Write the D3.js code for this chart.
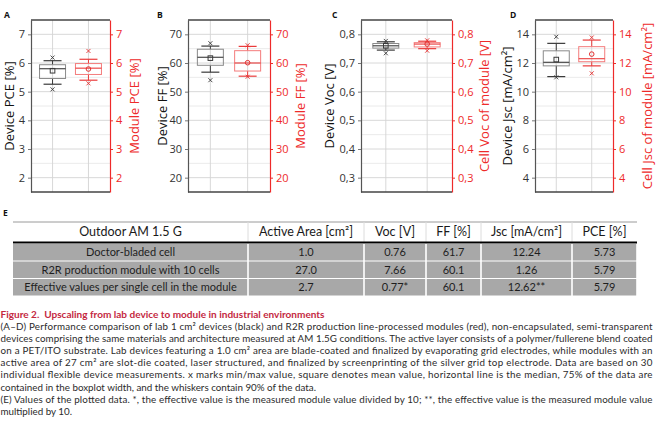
<!DOCTYPE html>
<html><head><meta charset="utf-8">
<script src="https://cdn.jsdelivr.net/npm/d3@7"></script>
<style>
body{margin:0;background:#fff;}
svg{display:block;}
</style></head><body>
<svg id="fig" width="660" height="437"></svg>
<script>
// box stats per series: [min, whisker low, q1, median, q3, whisker high, max, mean]
var pceDevice = [5.08, 5.26, 5.46, 5.8, 5.94, 6.08, 6.19, 5.73];
var pceModule = [5.29, 5.4, 5.6, 5.82, 5.98, 6.13, 6.42, 5.79];
var ffDevice = [54.0, 56.8, 59.2, 62.0, 64.8, 65.9, 66.9, 61.7];
var ffModule = [55.2, 55.4, 57.2, 60.0, 64.3, 65.8, 66.2, 60.1];
var vocDevice = [0.734, 0.745, 0.752, 0.760, 0.768, 0.774, 0.777, 0.760];
var vocModule = [0.743, 0.750, 0.756, 0.766, 0.771, 0.776, 0.779, 0.766];
var jscDevice = [11.0, 11.05, 11.8, 12.05, 12.85, 13.37, 13.83, 12.24];
var jscModule = [11.28, 11.8, 12.09, 12.3, 13.14, 13.6, 13.78, 12.62];

var panelLetters = ["A", "B", "C", "D"];
var leftTitles = ["Device PCE [%]", "Device FF [%]", "Device Voc [V]", "Device Jsc [mA/cm²]"];
var rightTitles = ["Module PCE [%]", "Module FF [%]", "Cell Voc of module [V]", "Cell Jsc of module [mA/cm²]"];
var yDomains = [[1.5, 7.5], [15, 75], [0.25, 0.85], [3, 15]];
var yTicks = [
	[2, 3, 4, 5, 6, 7],
	[20, 30, 40, 50, 60, 70],
	[0.3, 0.4, 0.5, 0.6, 0.7, 0.8],
	[4, 6, 8, 10, 12, 14]
];
var groups = ["Device", "Module"];

// table E
var tableHeader = ["Outdoor AM 1.5 G", "Active Area [cm²]", "Voc [V]", "FF [%]", "Jsc [mA/cm²]", "PCE [%]"];
var rowNames = ["Doctor-bladed cell", "R2R production module with 10 cells", "Effective values per single cell in the module"];
var areaVals = ["1.0", "27.0", "2.7"];
var vocVals = ["0.76", "7.66", "0.77*"];
var ffVals = ["61.7", "60.1", "60.1"];
var jscVals = ["12.24", "1.26", "12.62**"];
var pceVals = ["5.73", "5.79", "5.79"];

var captionTitle = "Figure 2.  Upscaling from lab device to module in industrial environments";
var captionLines = [
	"(A–D) Performance comparison of lab 1 cm² devices (black) and R2R production line-processed modules (red), non-encapsulated, semi-transparent",
	"devices comprising the same materials and architecture measured at AM 1.5G conditions. The active layer consists of a polymer/fullerene blend coated",
	"on a PET/ITO substrate. Lab devices featuring a 1.0 cm² area are blade-coated and finalized by evaporating grid electrodes, while modules with an",
	"active area of 27 cm² are slot-die coated, laser structured, and finalized by screenprinting of the silver grid top electrode. Data are based on 30",
	"individual flexible device measurements. x marks min/max value, square denotes mean value, horizontal line is the median, 75% of the data are",
	"contained in the boxplot width, and the whiskers contain 90% of the data.",
	"(E) Values of the plotted data. *, the effective value is the measured module value divided by 10; **, the effective value is the measured module value",
	"multiplied by 10."
];
var justified = [true, true, true, true, true, false, true, false];

var series = [[pceDevice, pceModule], [ffDevice, ffModule], [vocDevice, vocModule], [jscDevice, jscModule]];

var svg = d3.select("#fig");
var axisFont = "'Open Sans', 'DejaVu Sans', sans-serif";
var red = "#ee2a2a";

// plot frames [left, right] and title x-positions
var frames = [[31, 110], [188, 270], [361, 452], [535, 613]];
var leftTitleX = [9, 162, 329, 507];
var rightTitleX = [134, 300, 484, 647];
var letterX = [4, 157, 332, 510];
var plotTop = 20, plotBottom = 192;

var devStyle = {box: "#8a8a8a", line: "#3a3a3a", mark: "#3a3a3a"};
var modStyle = {box: "#f47c7c", line: "#ea3b3b", mark: "#e43030"};

function drawBox(g, cx, y, s, st, isModule) {
	var bw = 26, cw = 18;
	g.append("line").attr("x1", cx).attr("x2", cx).attr("y1", y(s[1])).attr("y2", y(s[2]))
		.attr("stroke", st.line).attr("stroke-width", 1);
	g.append("line").attr("x1", cx).attr("x2", cx).attr("y1", y(s[4])).attr("y2", y(s[5]))
		.attr("stroke", st.line).attr("stroke-width", 1);
	[s[1], s[5]].forEach(function(v) {
		g.append("line").attr("x1", cx - cw / 2).attr("x2", cx + cw / 2).attr("y1", y(v)).attr("y2", y(v))
			.attr("stroke", st.line).attr("stroke-width", 1.2);
	});
	g.append("rect").attr("x", cx - bw / 2).attr("width", bw)
		.attr("y", y(s[4])).attr("height", y(s[2]) - y(s[4]))
		.attr("fill", "none").attr("stroke", st.box).attr("stroke-width", 1);
	g.append("line").attr("x1", cx - bw / 2).attr("x2", cx + bw / 2).attr("y1", y(s[3])).attr("y2", y(s[3]))
		.attr("stroke", st.line).attr("stroke-width", 1.1);
	// mean
	if (isModule) {
		g.append("circle").attr("cx", cx).attr("cy", y(s[7])).attr("r", 2.3)
			.attr("fill", "none").attr("stroke", st.mark).attr("stroke-width", 1);
	} else {
		g.append("rect").attr("x", cx - 2.3).attr("y", y(s[7]) - 2.3).attr("width", 4.6).attr("height", 4.6)
			.attr("fill", "none").attr("stroke", st.mark).attr("stroke-width", 1);
	}
	// min / max crosses
	[s[0], s[6]].forEach(function(v) {
		var yy = y(v), d = 2;
		g.append("path").attr("d", "M" + (cx - d) + "," + (yy - d) + "L" + (cx + d) + "," + (yy + d) +
			"M" + (cx - d) + "," + (yy + d) + "L" + (cx + d) + "," + (yy - d))
			.attr("stroke", st.mark).attr("stroke-width", 0.9).attr("fill", "none");
	});
}

panelLetters.forEach(function(letter, i) {
	var x0 = frames[i][0], x1 = frames[i][1];
	var y = d3.scaleLinear().domain(yDomains[i]).range([plotBottom, plotTop]);
	var x = d3.scalePoint().domain(groups).range([x0, x1]).padding(0.6).align(0.5);
	var g = svg.append("g");
	var fmt = i === 2 ? function(d) { return d3.format(".1f")(d).replace(".", ","); } : d3.format("d");
	var ticks = yTicks[i];
	var step = ticks[1] - ticks[0];
	var minor = ticks.map(function(t) { return t - step / 2; }).concat([ticks[ticks.length - 1] + step / 2])
		.filter(function(t) { return t > yDomains[i][0] && t < yDomains[i][1]; });

	// grid
	g.selectAll(".minor").data(minor).enter().append("line")
		.attr("x1", x0).attr("x2", x1).attr("y1", function(d) { return y(d); }).attr("y2", function(d) { return y(d); })
		.attr("stroke", "#e4e4e4").attr("stroke-width", 0.8);
	g.selectAll(".major").data(ticks).enter().append("line")
		.attr("x1", x0).attr("x2", x1).attr("y1", function(d) { return y(d); }).attr("y2", function(d) { return y(d); })
		.attr("stroke", "#d4d4d4").attr("stroke-width", 0.9);
	g.selectAll(".vgrid").data(groups).enter().append("line")
		.attr("x1", function(d) { return x(d); }).attr("x2", function(d) { return x(d); })
		.attr("y1", plotTop).attr("y2", plotBottom)
		.attr("stroke", "#d4d4d4").attr("stroke-width", 0.9);

	// left axis
	var la = g.append("g").attr("transform", "translate(" + x0 + ",0)")
		.call(d3.axisLeft(y).tickValues(ticks).tickFormat(fmt).tickSize(3).tickSizeOuter(0).tickPadding(3));
	la.select(".domain").attr("stroke", "#555").attr("stroke-width", 1.2);
	la.selectAll(".tick line").attr("stroke", "#777");
	la.selectAll("text").attr("fill", "#333").style("font-family", axisFont).style("font-size", "11px");

	// right axis
	var ra = g.append("g").attr("transform", "translate(" + x1 + ",0)")
		.call(d3.axisRight(y).tickValues(ticks).tickFormat(fmt).tickSize(3).tickSizeOuter(0).tickPadding(3));
	ra.select(".domain").attr("stroke", red).attr("stroke-width", 1.2);
	ra.selectAll(".tick line").attr("stroke", red);
	ra.selectAll("text").attr("fill", red).style("font-family", axisFont).style("font-size", "11px");

	// top / bottom frame
	g.append("line").attr("x1", x0).attr("x2", x1).attr("y1", plotTop).attr("y2", plotTop)
		.attr("stroke", "#444").attr("stroke-width", 1.6);
	g.append("line").attr("x1", x0).attr("x2", x1).attr("y1", plotBottom).attr("y2", plotBottom)
		.attr("stroke", "#444").attr("stroke-width", 1.6);

	drawBox(g, x("Device"), y, series[i][0], devStyle, false);
	drawBox(g, x("Module"), y, series[i][1], modStyle, true);

	// titles
	var mid = (plotTop + plotBottom) / 2;
	g.append("text").attr("transform", "translate(" + leftTitleX[i] + "," + mid + ") rotate(-90)")
		.attr("text-anchor", "middle").attr("dominant-baseline", "central")
		.style("font-family", axisFont).style("font-size", "13px").attr("fill", "#111")
		.text(leftTitles[i]);
	g.append("text").attr("transform", "translate(" + rightTitleX[i] + "," + mid + ") rotate(-90)")
		.attr("text-anchor", "middle").attr("dominant-baseline", "central")
		.style("font-family", axisFont).style("font-size", "13px").attr("fill", red)
		.text(rightTitles[i]);
	g.append("text").attr("x", letterX[i]).attr("y", 18)
		.style("font-family", axisFont).style("font-size", "8.5px").style("font-weight", "bold").attr("fill", "#111")
		.text(letter);
});

// ---- table E ----
var tableFont = "'Lato', 'Noto Sans', sans-serif";
var colEdges = [13, 248, 364, 426, 481, 572, 637];
var headTop = 222, headBottom = 242;
var rowTops = [244, 261.5, 279], rowH = 16.5;
var cols = [rowNames, areaVals, vocVals, ffVals, jscVals, pceVals];

svg.append("text").attr("x", 3).attr("y", 216)
	.style("font-family", axisFont).style("font-size", "8.5px").style("font-weight", "bold").attr("fill", "#111")
	.text("E");

var tbl = svg.append("g");
tbl.append("line").attr("x1", colEdges[0]).attr("x2", colEdges[6]).attr("y1", headTop).attr("y2", headTop)
	.attr("stroke", "#9a9a9a").attr("stroke-width", 1);
colEdges.slice(1, 6).forEach(function(cx) {
	tbl.append("line").attr("x1", cx).attr("x2", cx).attr("y1", headTop).attr("y2", headBottom)
		.attr("stroke", "#dcdcdc").attr("stroke-width", 1);
});
tableHeader.forEach(function(h, j) {
	tbl.append("text").attr("x", (colEdges[j] + colEdges[j + 1]) / 2).attr("y", 236)
		.attr("text-anchor", "middle").style("font-family", tableFont).style("font-size", "12.5px")
		.attr("fill", "#1a1a1a").text(h);
});
rowTops.forEach(function(rt, r) {
	cols.forEach(function(col, j) {
		var cx0 = colEdges[j] + (j === 0 ? 0 : 0.8), cx1 = colEdges[j + 1] - 0.8;
		tbl.append("rect").attr("x", cx0).attr("y", rt).attr("width", cx1 - cx0).attr("height", rowH)
			.attr("fill", "#a8a8a8");
		tbl.append("text").attr("x", (colEdges[j] + colEdges[j + 1]) / 2).attr("y", rt + 12)
			.attr("text-anchor", "middle").style("font-family", tableFont)
			.style("font-size", "11px").attr("fill", "#1e1e1e")
			.text(col[r]);
	});
});
tbl.append("line").attr("x1", colEdges[0]).attr("x2", colEdges[6]).attr("y1", headBottom + 0.5).attr("y2", headBottom + 0.5)
	.attr("stroke", "#000").attr("stroke-width", 2.2);

// ---- caption ----
var capFont = "'Lato', 'Noto Sans', sans-serif";
svg.append("text").attr("x", 0.5).attr("y", 318)
	.style("font-family", capFont).style("font-size", "9.8px").style("font-weight", "bold")
	.attr("fill", "#c4283f").attr("xml:space", "preserve")
	.attr("textLength", 324).attr("lengthAdjust", "spacingAndGlyphs")
	.text(captionTitle);
captionLines.forEach(function(line, k) {
	var t = svg.append("text").attr("x", 0.5).attr("y", 330 + k * 12.1)
		.style("font-family", capFont).style("font-size", "9.8px").attr("fill", "#2b2b2b")
		.text(line);
	if (justified[k]) {
		t.attr("textLength", 652).attr("lengthAdjust", "spacing");
	}
});
</script>
</body></html>
